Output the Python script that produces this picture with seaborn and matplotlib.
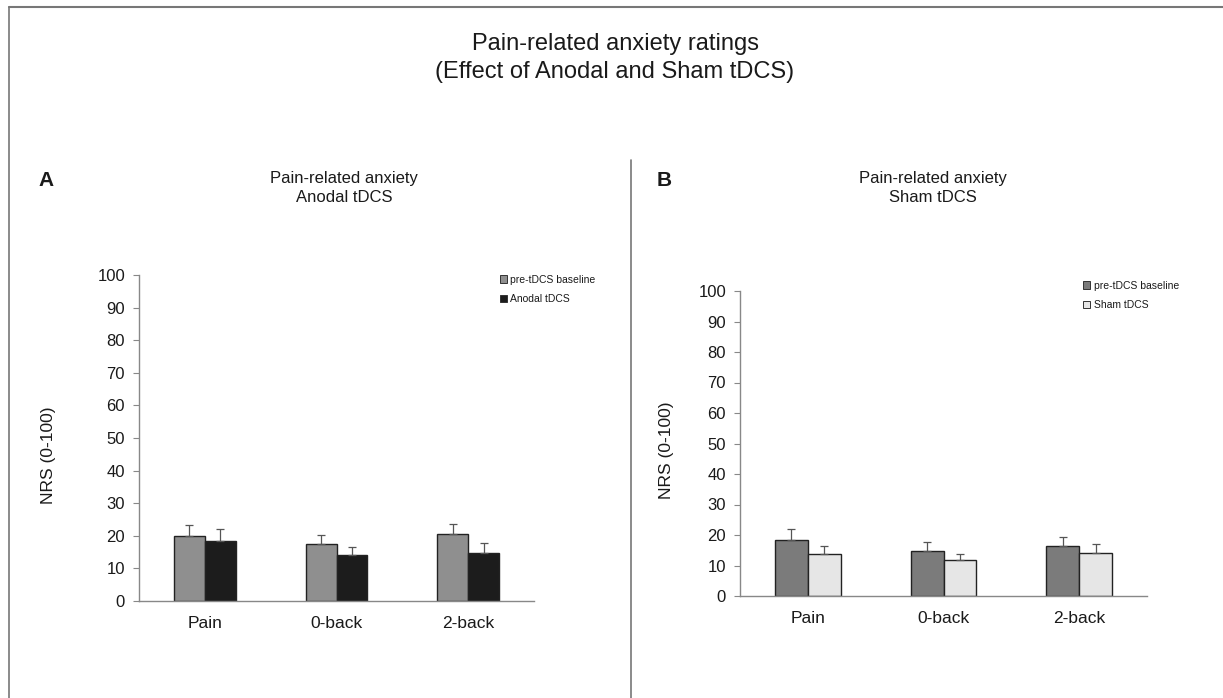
import numpy as np
import pandas as pd
import matplotlib
matplotlib.use("Agg")
import matplotlib.pyplot as plt
from matplotlib.lines import Line2D
import seaborn as sns

tasks = ["Pain", "0-back", "2-back"]
a_conds = ["pre-tDCS baseline", "Anodal tDCS"]
a_baseline = [19.9, 17.4, 20.5]
a_anodal = [18.4, 14.1, 14.8]
a_baseline_err = [3.3, 2.7, 3.1]
a_anodal_err = [3.7, 2.5, 3.0]

b_conds = ["pre-tDCS baseline", "Sham tDCS"]
b_baseline = [18.5, 14.7, 16.3]
b_sham = [13.7, 11.7, 14.2]
b_baseline_err = [3.5, 2.9, 3.0]
b_sham_err = [2.6, 2.2, 2.7]

yticks = list(range(0, 101, 10))

sns.set_theme(style="white")
plt.rcParams["font.family"] = ["Liberation Sans", "DejaVu Sans"]
plt.rcParams["text.color"] = "#1a1a1a"

fig = plt.figure(figsize=(12.23, 6.98), dpi=100)
W, H = 1223, 698

def frac(x0, y0, x1, y1):
    return [x0 / W, 1 - y1 / H, (x1 - x0) / W, (y1 - y0) / H]

axA = fig.add_axes(frac(139, 275, 534, 601))
axB = fig.add_axes(frac(740, 291, 1147, 596))

def panel(ax, conds, v1, v2, e1, e2, colors, width):
    df = pd.DataFrame({
        "task": tasks * 2,
        "cond": [conds[0]] * 3 + [conds[1]] * 3,
        "value": list(v1) + list(v2),
    })
    sns.barplot(data=df, x="task", y="value", hue="cond", order=tasks,
                hue_order=conds, palette=colors, width=width, gap=0,
                edgecolor="#222222", linewidth=1.0, errorbar=None, ax=ax,
                legend=False, saturation=1)
    errs = list(e1) + list(e2)
    vals = list(v1) + list(v2)
    patches = [p for p in ax.patches][:6]
    for p, v, e in zip(patches, vals, errs):
        xc = p.get_x() + p.get_width() / 2
        ax.errorbar([xc], [v], yerr=[[0], [e]], fmt="none", ecolor="#555555",
                    elinewidth=0.9, capsize=3, capthick=0.9)
    ax.set_xlim(-0.5, 2.5)
    ax.set_ylim(0, 100)
    ax.set_yticks(yticks)
    ax.set_yticklabels([str(t) for t in yticks], fontsize=12, color="#1a1a1a")
    ax.set_xlabel("")
    ax.set_ylabel("")
    ax.tick_params(axis="x", length=0, labelsize=12.5, pad=11,
                   labelcolor="#1a1a1a")
    ax.tick_params(axis="y", length=4, width=0.8, color="#888888",
                   left=True, pad=6)
    for s in ["top", "right"]:
        ax.spines[s].set_visible(False)
    for s in ["left", "bottom"]:
        ax.spines[s].set_color("#888888")
        ax.spines[s].set_linewidth(1.0)
    handles = [plt.Rectangle((0, 0), 1, 1, facecolor=c, edgecolor="#333333",
                             linewidth=0.7) for c in colors]
    return handles

hA = panel(axA, a_conds, a_baseline, a_anodal, a_baseline_err, a_anodal_err,
           ["#8f8f8f", "#1c1c1c"], 0.47)
hB = panel(axB, b_conds, b_baseline, b_sham, b_baseline_err, b_sham_err,
           ["#7b7b7b", "#e6e6e6"], 0.486)

legA = axA.legend(hA, a_conds, loc="upper left", bbox_to_anchor=(0.89, 1.03),
                  frameon=False, fontsize=7.5, handlelength=0.7,
                  handleheight=0.7, handletextpad=0.3, labelspacing=0.9)
legB = axB.legend(hB, b_conds, loc="upper left", bbox_to_anchor=(0.82, 1.065),
                  frameon=False, fontsize=7.5, handlelength=0.7,
                  handleheight=0.7, handletextpad=0.3, labelspacing=0.9)

def fx(x):
    return x / W

def fy(y):
    return 1 - y / H

fig.text(fx(615), fy(44), "Pain-related anxiety ratings", ha="center",
         va="center", fontsize=17)
fig.text(fx(615), fy(72), "(Effect of Anodal and Sham tDCS)", ha="center",
         va="center", fontsize=17)
fig.text(fx(46), fy(181), "A", ha="center", va="center", fontsize=15,
         fontweight="bold")
fig.text(fx(664), fy(181), "B", ha="center", va="center", fontsize=15,
         fontweight="bold")
fig.text(fx(344), fy(178), "Pain-related anxiety", ha="center", va="center",
         fontsize=12)
fig.text(fx(344), fy(198), "Anodal tDCS", ha="center", va="center",
         fontsize=12)
fig.text(fx(933), fy(178), "Pain-related anxiety", ha="center", va="center",
         fontsize=12)
fig.text(fx(933), fy(198), "Sham tDCS", ha="center", va="center",
         fontsize=12)
fig.text(fx(49), fy(455), "NRS (0-100)", ha="center", va="center",
         rotation=90, fontsize=12.5)
fig.text(fx(667), fy(450), "NRS (0-100)", ha="center", va="center",
         rotation=90, fontsize=12.5)

# frame lines
fig.add_artist(Line2D([fx(9), 1.0], [fy(7), fy(7)], color="#777777", lw=1.5))
fig.add_artist(Line2D([fx(9), fx(9)], [fy(7), 0.0], color="#777777", lw=1.2))
fig.add_artist(Line2D([fx(631), fx(631)], [fy(160), 0.0], color="#777777",
                      lw=1.2))

fig.savefig("out.png", dpi=100)
